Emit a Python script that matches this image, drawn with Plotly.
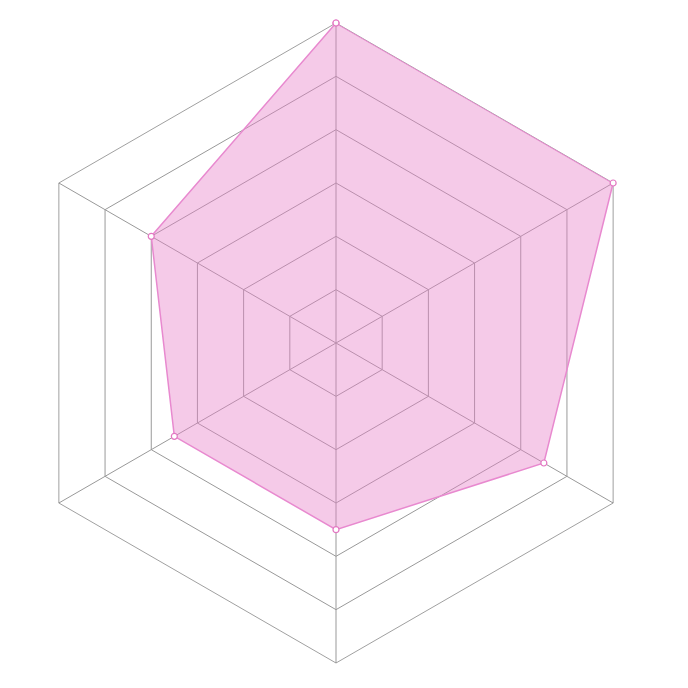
import plotly.graph_objects as go

categories = ["A", "B", "C", "D", "E", "F"]
values = [6, 6, 4.5, 3.5, 3.5, 4]

fig = go.Figure()
fig.add_trace(go.Scatterpolar(
    r=values + values[:1],
    theta=categories + categories[:1],
    mode="lines+markers",
    fill="toself",
    fillcolor="rgba(231,128,200,0.42)",
    line=dict(color="#e889cf", width=1.5),
    marker=dict(size=6, color="white", line=dict(color="#e377c2", width=1.2)),
    hoverinfo="skip",
))

fig.update_layout(
    width=688, height=688,
    margin=dict(l=8, r=40, t=15, b=33),
    paper_bgcolor="white",
    showlegend=False,
    polar=dict(
        bgcolor="white",
        gridshape="linear",
        radialaxis=dict(range=[0, 6], dtick=1, showticklabels=False, ticks="",
                        showline=False, gridcolor="#999", gridwidth=0.8,
                        layer="below traces"),
        angularaxis=dict(rotation=90, direction="clockwise", showticklabels=False,
                         ticks="", linecolor="#888", linewidth=0.8,
                         gridcolor="#999", gridwidth=0.8, layer="below traces"),
    ),
)

fig.write_html("out.html")
